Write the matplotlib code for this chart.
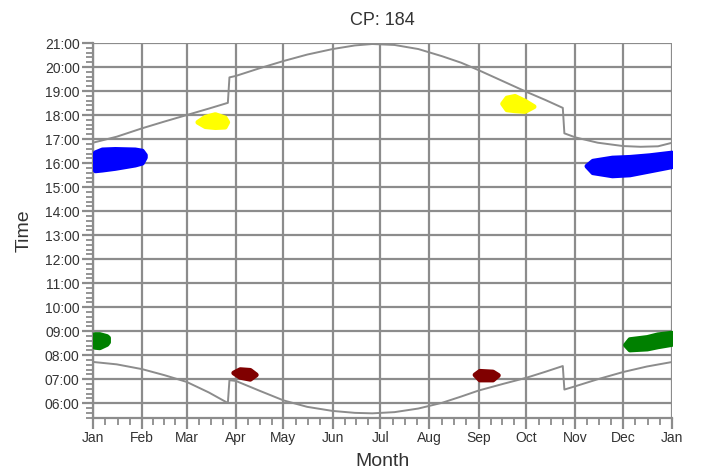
import numpy as np
import matplotlib.pyplot as plt
from matplotlib.ticker import FixedLocator, MultipleLocator, FuncFormatter

plt.rcParams['font.family'] = ['Liberation Sans', 'DejaVu Sans']

# x = day of year (Jan 1 = 0), y = time of day in hours
month_starts = [0, 31, 59, 90, 120, 151, 181, 212, 243, 273, 304, 334, 365]
month_labels = ['Jan', 'Feb', 'Mar', 'Apr', 'May', 'Jun', 'Jul', 'Aug',
                'Sep', 'Oct', 'Nov', 'Dec', 'Jan']

# sunset / sunrise lines (with the DST jumps)
sunset_days = [0, 15, 31, 45, 59, 73, 85, 86, 90, 105, 120, 135, 151, 165, 176, 190,
               205, 220, 232, 243, 258, 273, 285, 296, 297, 304, 318, 334, 345, 356, 365]
sunset = [16.85, 17.10, 17.45, 17.73, 18.00, 18.27, 18.51, 19.57, 19.63, 19.95, 20.25,
          20.52, 20.75, 20.90, 20.96, 20.92, 20.75, 20.45, 20.18, 19.87, 19.42, 18.97,
          18.63, 18.30, 17.24, 17.07, 16.85, 16.71, 16.68, 16.70, 16.85]

sunrise_days = [0, 15, 31, 45, 59, 73, 85, 86, 90, 105, 120, 135, 151, 165, 176, 190,
                205, 220, 232, 243, 258, 273, 285, 296, 297, 304, 318, 334, 349, 365]
sunrise = [7.72, 7.62, 7.42, 7.17, 6.89, 6.45, 6.01, 6.96, 6.93, 6.52, 6.12, 5.85,
           5.68, 5.60, 5.58, 5.63, 5.78, 6.02, 6.28, 6.53, 6.80, 7.06, 7.31, 7.55,
           6.57, 6.71, 7.00, 7.30, 7.53, 7.72]

# glare periods: day, start time, end time
blue1_days = [1.0, 1.3, 5.7, 13.8, 26.4, 30.8, 32.7]
blue1_lo = [15.75, 15.70, 15.73, 15.80, 15.94, 16.02, 16.25]
blue1_hi = [16.40, 16.45, 16.57, 16.59, 16.57, 16.52, 16.35]

blue2_days = [310.9, 314.7, 327, 338, 350.5, 364.5]
blue2_lo = [15.89, 15.62, 15.49, 15.53, 15.69, 15.87]
blue2_hi = [15.89, 16.10, 16.23, 16.26, 16.33, 16.44]

green1_days = [1.0, 4.0, 8.5, 9.5]
green1_lo = [8.35, 8.33, 8.47, 8.56]
green1_hi = [8.88, 8.88, 8.80, 8.74]

green2_days = [335.2, 338, 349, 355.6, 364.5]
green2_lo = [8.44, 8.24, 8.28, 8.37, 8.47]
green2_hi = [8.44, 8.67, 8.76, 8.87, 8.94]

yellow1_days = [65.8, 70.5, 76.8, 83, 84.6]
yellow1_lo = [17.72, 17.54, 17.50, 17.52, 17.72]
yellow1_hi = [17.72, 17.93, 18.04, 17.90, 17.72]

yellow2_days = [257.8, 260.5, 265.6, 271.9, 277.6]
yellow2_lo = [18.49, 18.24, 18.20, 18.17, 18.37]
yellow2_hi = [18.49, 18.73, 18.80, 18.60, 18.37]

red1_days = [88.4, 92.5, 98.8, 102.6]
red1_lo = [7.28, 7.10, 7.02, 7.20]
red1_hi = [7.28, 7.42, 7.39, 7.20]

red2_days = [240.4, 243.5, 251.7, 255.1]
red2_lo = [7.20, 6.99, 6.99, 7.18]
red2_hi = [7.20, 7.35, 7.32, 7.18]

fig = plt.figure(figsize=(7.04, 4.73), dpi=100)
ax = fig.add_axes([0.132, 0.117, 0.823, 0.792])

grid_c = '#8c8c8c'
text_c = '#333333'

blobs = [
    (blue1_days, blue1_lo, blue1_hi, '#0000ff'),
    (blue2_days, blue2_lo, blue2_hi, '#0000ff'),
    (green1_days, green1_lo, green1_hi, '#008000'),
    (green2_days, green2_lo, green2_hi, '#008000'),
    (yellow1_days, yellow1_lo, yellow1_hi, '#ffff00'),
    (yellow2_days, yellow2_lo, yellow2_hi, '#ffff00'),
    (red1_days, red1_lo, red1_hi, '#800000'),
    (red2_days, red2_lo, red2_hi, '#800000'),
]
for d, lo, hi, c in blobs:
    ax.fill_between(d, lo, hi, color=c, edgecolor=c, linewidth=3.5,
                    joinstyle='round', capstyle='round', zorder=3)

ax.plot(sunset_days, sunset, color=grid_c, lw=1.4, zorder=2)
ax.plot(sunrise_days, sunrise, color=grid_c, lw=1.4, zorder=2)

ax.set_xlim(0, 365)
ax.set_ylim(5.4, 21)

ax.xaxis.set_major_locator(FixedLocator(month_starts))
ax.set_xticklabels(month_labels)
minor_x = []
for a, b in zip(month_starts[:-1], month_starts[1:]):
    minor_x += [a + (b - a) * k / 4 for k in (1, 2, 3)]
ax.xaxis.set_minor_locator(FixedLocator(minor_x))

ax.yaxis.set_major_locator(MultipleLocator(1))
ax.yaxis.set_minor_locator(MultipleLocator(0.2))
ax.yaxis.set_major_formatter(FuncFormatter(lambda v, p: '%02d:00' % round(v)))

ax.grid(True, which='major', color=grid_c, lw=1.6, zorder=1)
ax.set_axisbelow(True)
for s in ax.spines.values():
    s.set_color(grid_c)
    s.set_linewidth(1.6)
ax.spines['top'].set_visible(False)
ax.spines['right'].set_visible(False)

ax.tick_params(which='major', length=8, width=1.6, color=grid_c, pad=1.5,
               labelsize=10, labelcolor=text_c)
ax.tick_params(which='minor', length=5, width=1.3, color=grid_c)

ax.set_xlabel('Month', fontsize=14, color=text_c, labelpad=6)
ax.set_ylabel('Time', fontsize=14, color=text_c, labelpad=9)
ax.set_title('CP: 184', fontsize=13, color=text_c, pad=13)

fig.savefig('out.png', dpi=100)
